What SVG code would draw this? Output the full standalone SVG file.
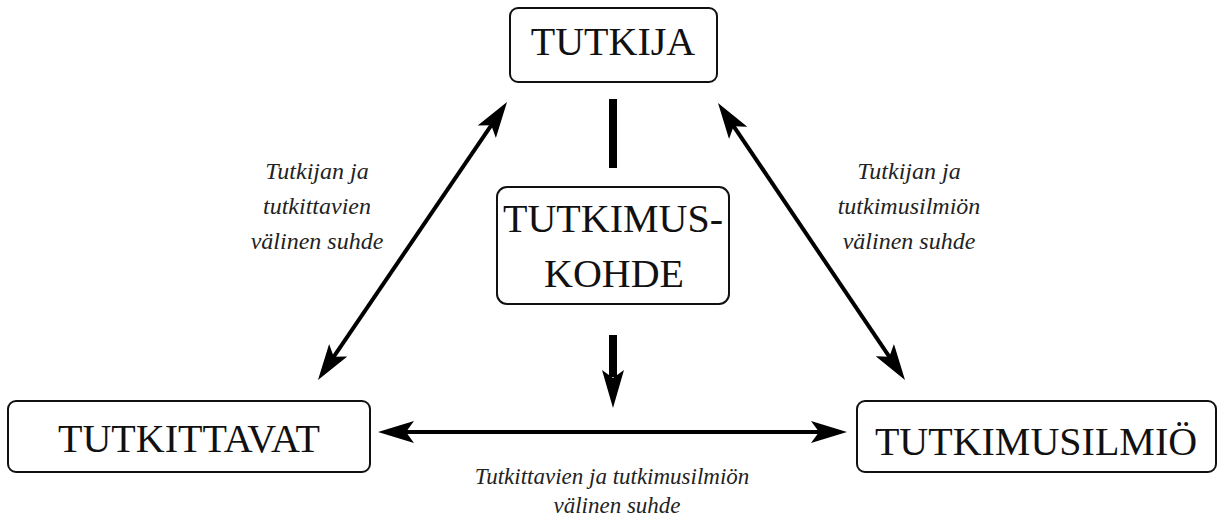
<svg xmlns="http://www.w3.org/2000/svg" width="1219" height="519" viewBox="0 0 1219 519">
  <style>
    .box { fill: #ffffff; stroke: #111111; stroke-width: 2; }
    .node-text { font-family: 'Liberation Serif', 'DejaVu Serif', serif; font-size: 40px; fill: #111111; text-anchor: middle; }
    .label { font-family: 'Liberation Serif', 'DejaVu Serif', serif; font-style: italic; fill: #222222; text-anchor: middle; }
    .side { font-size: 24px; }
    .bottom { font-size: 23px; }
    .link { fill: none; stroke: #000000; stroke-width: 4; }
  </style>
  <defs>
    <marker id="head" viewBox="0 0 36 22" refX="26" refY="11" markerWidth="36" markerHeight="22" markerUnits="userSpaceOnUse" orient="auto-start-reverse">
      <path d="M0,0 L36,11 L0,22 L8,11 Z" fill="#000000"/>
    </marker>
  </defs>

  <!-- connectors -->
  <g id="connectors">
    <path class="link" d="M501.4,110.3 L323.6,371.7" marker-start="url(#head)" marker-end="url(#head)"/>
    <path class="link" d="M723.6,111.3 L899.4,371.7" marker-start="url(#head)" marker-end="url(#head)"/>
    <path class="link" d="M388,432 L837,432" marker-start="url(#head)" marker-end="url(#head)"/>
    <!-- heavy bar between researcher and research object -->
    <rect x="609" y="99" width="8" height="69" fill="#000000"/>
    <!-- heavy downward arrow from research object -->
    <rect x="609" y="335" width="8" height="42" fill="#000000"/>
    <path d="M602,370 L613,378 L624,370 L613,408 Z" fill="#000000"/>
  </g>

  <g id="node-tutkija">
    <rect class="box" x="510" y="8" width="207" height="74" rx="8"/>
    <text class="node-text" x="613" y="55">TUTKIJA</text>
  </g>

  <g id="node-tutkimuskohde">
    <rect class="box" x="497" y="187" width="232" height="117" rx="10"/>
    <text class="node-text" x="613" y="232">TUTKIMUS-</text>
    <text class="node-text" x="614" y="287">KOHDE</text>
  </g>

  <g id="node-tutkittavat">
    <rect class="box" x="8" y="401" width="362" height="71" rx="8"/>
    <text class="node-text" x="189" y="452">TUTKITTAVAT</text>
  </g>

  <g id="node-tutkimusilmio">
    <rect class="box" x="857" y="401" width="359" height="71" rx="8"/>
    <text class="node-text" x="1036" y="455">TUTKIMUSILMIÖ</text>
  </g>

  <g id="labels">
    <text class="label side" x="317" y="179">Tutkijan ja</text>
    <text class="label side" x="317" y="214">tutkittavien</text>
    <text class="label side" x="317" y="249">välinen suhde</text>

    <text class="label side" x="909" y="179">Tutkijan ja</text>
    <text class="label side" x="909" y="214">tutkimusilmiön</text>
    <text class="label side" x="909" y="249">välinen suhde</text>

    <text class="label bottom" x="612" y="484">Tutkittavien ja tutkimusilmiön</text>
    <text class="label bottom" x="617" y="513">välinen suhde</text>
  </g>
</svg>
